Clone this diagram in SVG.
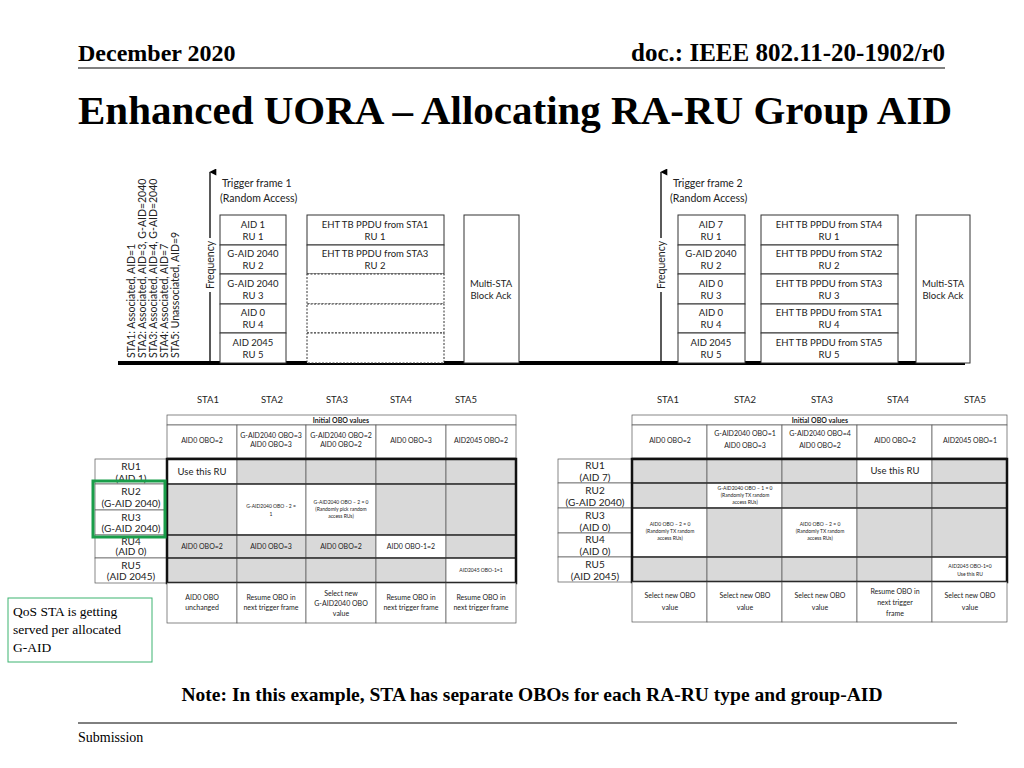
<svg xmlns="http://www.w3.org/2000/svg" width="1024" height="768" viewBox="0 0 1024 768">
<style>
text{font-family:"Lato","Liberation Sans",sans-serif;fill:#222}
.s{font-size:9.5px;text-anchor:middle}
.t{font-size:7px;text-anchor:middle}
.u{font-size:5px;text-anchor:middle}
.r{font-size:10px;text-anchor:middle}
.b{fill:#fff;stroke:#333;stroke-width:1}
.d{fill:#fff;stroke:#333;stroke-width:1;stroke-dasharray:2,1.5}
.g{fill:#d9d9d9;stroke:#555;stroke-width:0.7}
.w{fill:#fff;stroke:#555;stroke-width:0.7}
text.hd{font-family:"Liberation Serif",serif;font-weight:bold;fill:#000}
text.sf{font-family:"Liberation Serif",serif;fill:#000}
</style>
<defs><marker id="ar" viewBox="0 0 10 10" refX="5" refY="1" markerWidth="7" markerHeight="9" orient="auto-start-reverse" markerUnits="userSpaceOnUse"><path d="M0,10 L5,0 L10,10 Z" fill="#000"/></marker></defs>
<rect width="1024" height="768" fill="#fff"/>
<g id="header">
<text x="78" y="61" class="hd" font-size="24">December 2020</text>
<text x="945" y="61" class="hd" font-size="25" text-anchor="end">doc.: IEEE 802.11-20-1902/r0</text>
<line x1="78" y1="68" x2="945" y2="68" stroke="#000"/>
<text x="78" y="124" class="hd" font-size="41">Enhanced UORA – Allocating RA-RU Group AID</text>
<line x1="78" y1="723" x2="957" y2="723" stroke="#000"/>
<text x="78" y="742" class="sf" font-size="14">Submission</text>
</g>
<g id="sta-list">
<text transform="translate(135,358) rotate(-90)" font-size="10.5">STA1: Associated, AID=1</text>
<text transform="translate(146,358) rotate(-90)" font-size="10.5">STA2: Associated, AID=3, G-AID=2040</text>
<text transform="translate(157,358) rotate(-90)" font-size="10.5">STA3: Associated, AID=4, G-AID=2040</text>
<text transform="translate(168,358) rotate(-90)" font-size="10.5">STA4: Associated, AID=7</text>
<text transform="translate(179,358) rotate(-90)" font-size="10.5">STA5: Unassociated, AID=9</text>
</g>
<g id="connectors">
<line x1="118" y1="363" x2="965" y2="363" stroke="#000" stroke-width="4"/>
<line x1="210" y1="362" x2="210" y2="172" stroke="#000" stroke-width="1.3" marker-end="url(#ar)"/>
<line x1="661" y1="362" x2="661" y2="172" stroke="#000" stroke-width="1.3" marker-end="url(#ar)"/>
</g>
<g id="tf1">
<rect x="203" y="238" width="14" height="54" fill="#fff"/>
<text transform="translate(214,265) rotate(-90)" font-size="10.5" text-anchor="middle">Frequency</text>
<text x="222" y="187" font-size="10.5">Trigger frame 1</text>
<text x="220" y="202" font-size="10.5">(Random Access)</text>
<rect class="b" x="220" y="215" width="66" height="30"/><text class="s" x="253" y="228">AID 1</text><text class="s" x="253" y="240">RU 1</text>
<rect class="b" x="220" y="245" width="66" height="29"/><text class="s" x="253" y="257">G-AID 2040</text><text class="s" x="253" y="269">RU 2</text>
<rect class="b" x="220" y="274" width="66" height="30"/><text class="s" x="253" y="287">G-AID 2040</text><text class="s" x="253" y="299">RU 3</text>
<rect class="b" x="220" y="304" width="66" height="29"/><text class="s" x="253" y="316">AID 0</text><text class="s" x="253" y="328">RU 4</text>
<rect class="b" x="220" y="333" width="66" height="30"/><text class="s" x="253" y="346">AID 2045</text><text class="s" x="253" y="358">RU 5</text>
<rect class="b" x="307" y="215" width="137" height="30"/><text class="s" x="375" y="228">EHT TB PPDU from STA1</text><text class="s" x="375" y="240">RU 1</text>
<rect class="b" x="307" y="245" width="137" height="29"/><text class="s" x="375" y="257">EHT TB PPDU from STA3</text><text class="s" x="375" y="269">RU 2</text>
<rect class="d" x="307" y="274" width="137" height="30"/>
<rect class="d" x="307" y="304" width="137" height="29"/>
<rect class="d" x="307" y="333" width="137" height="30"/>
<rect class="b" x="464" y="215" width="55" height="148"/><text class="s" x="491" y="287">Multi-STA</text><text class="s" x="491" y="299">Block Ack</text>
</g>
<g id="tf2">
<rect x="654" y="238" width="14" height="54" fill="#fff"/>
<text transform="translate(665,265) rotate(-90)" font-size="10.5" text-anchor="middle">Frequency</text>
<text x="673" y="187" font-size="10.5">Trigger frame 2</text>
<text x="670" y="202" font-size="10.5">(Random Access)</text>
<rect class="b" x="678" y="215" width="67" height="30"/><text class="s" x="711" y="228">AID 7</text><text class="s" x="711" y="240">RU 1</text>
<rect class="b" x="678" y="245" width="67" height="29"/><text class="s" x="711" y="257">G-AID 2040</text><text class="s" x="711" y="269">RU 2</text>
<rect class="b" x="678" y="274" width="67" height="30"/><text class="s" x="711" y="287">AID 0</text><text class="s" x="711" y="299">RU 3</text>
<rect class="b" x="678" y="304" width="67" height="29"/><text class="s" x="711" y="316">AID 0</text><text class="s" x="711" y="328">RU 4</text>
<rect class="b" x="678" y="333" width="67" height="30"/><text class="s" x="711" y="346">AID 2045</text><text class="s" x="711" y="358">RU 5</text>
<rect class="b" x="761" y="215" width="137" height="30"/><text class="s" x="829" y="228">EHT TB PPDU from STA4</text><text class="s" x="829" y="240">RU 1</text>
<rect class="b" x="761" y="245" width="137" height="29"/><text class="s" x="829" y="257">EHT TB PPDU from STA2</text><text class="s" x="829" y="269">RU 2</text>
<rect class="b" x="761" y="274" width="137" height="30"/><text class="s" x="829" y="287">EHT TB PPDU from STA3</text><text class="s" x="829" y="299">RU 3</text>
<rect class="b" x="761" y="304" width="137" height="29"/><text class="s" x="829" y="316">EHT TB PPDU from STA1</text><text class="s" x="829" y="328">RU 4</text>
<rect class="b" x="761" y="333" width="137" height="30"/><text class="s" x="829" y="346">EHT TB PPDU from STA5</text><text class="s" x="829" y="358">RU 5</text>
<rect class="b" x="916" y="215" width="54" height="148"/><text class="s" x="943" y="287">Multi-STA</text><text class="s" x="943" y="299">Block Ack</text>
</g>
<g id="sta-labels">
<text class="s" x="208" y="403">STA1</text><text class="s" x="272" y="403">STA2</text><text class="s" x="337" y="403">STA3</text><text class="s" x="401" y="403">STA4</text><text class="s" x="466" y="403">STA5</text>
<text class="s" x="668" y="403">STA1</text><text class="s" x="745" y="403">STA2</text><text class="s" x="822" y="403">STA3</text><text class="s" x="898" y="403">STA4</text><text class="s" x="975" y="403">STA5</text>
</g>
<g id="table1">
<rect class="w" x="167" y="415" width="349" height="10"/><text class="t" x="341" y="422.5" font-weight="bold">Initial OBO values</text>
<rect class="w" x="167" y="425" width="70" height="33"/><text class="t" x="202" y="443">AID0 OBO=2</text>
<rect class="w" x="237" y="425" width="69" height="33"/><text class="t" x="271" y="438">G-AID2040 OBO=3</text><text class="t" x="271" y="447">AID0 OBO=3</text>
<rect class="w" x="306" y="425" width="70" height="33"/><text class="t" x="341" y="438">G-AID2040 OBO=2</text><text class="t" x="341" y="447">AID0 OBO=2</text>
<rect class="w" x="376" y="425" width="70" height="33"/><text class="t" x="411" y="443">AID0 OBO=3</text>
<rect class="w" x="446" y="425" width="70" height="33"/><text class="t" x="481" y="443">AID2045 OBO=2</text>
<rect class="w" x="95" y="459" width="72" height="25"/><text class="r" x="131" y="470">RU1</text><text class="r" x="131" y="482">(AID 1)</text>
<rect class="w" x="95" y="484" width="72" height="26"/><text class="r" x="131" y="495">RU2</text><text class="r" x="131" y="507">(G-AID 2040)</text>
<rect class="w" x="95" y="510" width="72" height="25"/><text class="r" x="131" y="521">RU3</text><text class="r" x="131" y="532">(G-AID 2040)</text>
<rect class="w" x="95" y="535" width="72" height="23"/><text class="r" x="131" y="545">RU4</text><text class="r" x="131" y="555">(AID 0)</text>
<rect class="w" x="95" y="558" width="72" height="25"/><text class="r" x="131" y="569">RU5</text><text class="r" x="131" y="580">(AID 2045)</text>
<rect class="w" x="167" y="459" width="70" height="25"/><text class="s" x="202" y="475">Use this RU</text>
<rect class="g" x="237" y="459" width="69" height="25"/><rect class="g" x="306" y="459" width="70" height="25"/><rect class="g" x="376" y="459" width="70" height="25"/><rect class="g" x="446" y="459" width="70" height="25"/>
<rect class="g" x="167" y="484" width="70" height="51"/>
<rect class="w" x="237" y="484" width="69" height="51"/><text class="u" x="271" y="508" font-size="6">G-AID2040 OBO - 2 =</text><text class="u" x="271" y="516" font-size="6">1</text>
<rect class="w" x="306" y="484" width="70" height="51"/><text class="u" x="341" y="504">G-AID2040 OBO – 2 = 0</text><text class="u" x="341" y="511">(Randomly pick random</text><text class="u" x="341" y="518">access RUs)</text>
<rect class="g" x="376" y="484" width="70" height="51"/><rect class="g" x="446" y="484" width="70" height="51"/>
<rect class="g" x="167" y="535" width="70" height="23"/><text class="t" x="202" y="549">AID0 OBO=2</text>
<rect class="g" x="237" y="535" width="69" height="23"/><text class="t" x="271" y="549">AID0 OBO=3</text>
<rect class="g" x="306" y="535" width="70" height="23"/><text class="t" x="341" y="549">AID0 OBO=2</text>
<rect class="w" x="376" y="535" width="70" height="23"/><text class="t" x="411" y="549">AID0 OBO-1=2</text>
<rect class="g" x="446" y="535" width="70" height="23"/>
<rect class="g" x="167" y="558" width="70" height="25"/><rect class="g" x="237" y="558" width="69" height="25"/><rect class="g" x="306" y="558" width="70" height="25"/><rect class="g" x="376" y="558" width="70" height="25"/>
<rect class="w" x="446" y="558" width="70" height="25"/><text class="u" x="481" y="572" font-size="6">AID2045 OBO-1=1</text>
<line x1="167" y1="484" x2="516" y2="484" stroke="#333" stroke-width="1.5"/>
<line x1="167" y1="535" x2="516" y2="535" stroke="#333" stroke-width="1.5"/>
<line x1="167" y1="558" x2="516" y2="558" stroke="#333" stroke-width="1.5"/>
<rect x="167" y="459" width="349" height="124" fill="none" stroke="#111" stroke-width="2.5"/>
<rect class="w" x="167" y="583" width="70" height="40"/><text class="t" x="202" y="600">AID0 OBO</text><text class="t" x="202" y="610">unchanged</text>
<rect class="w" x="237" y="583" width="69" height="40"/><text class="t" x="271" y="600">Resume OBO in</text><text class="t" x="271" y="610">next trigger frame</text>
<rect class="w" x="306" y="583" width="70" height="40"/><text class="t" x="341" y="596">Select new</text><text class="t" x="341" y="606">G-AID2040 OBO</text><text class="t" x="341" y="616">value</text>
<rect class="w" x="376" y="583" width="70" height="40"/><text class="t" x="411" y="600">Resume OBO in</text><text class="t" x="411" y="610">next trigger frame</text>
<rect class="w" x="446" y="583" width="70" height="40"/><text class="t" x="481" y="600">Resume OBO in</text><text class="t" x="481" y="610">next trigger frame</text>
</g>
<g id="green-highlight"><rect x="93" y="481" width="72" height="56" fill="none" stroke="#1a9e4a" stroke-width="3"/></g>
<g id="qos-note">
<rect x="8" y="598" width="144" height="64" fill="#fff" stroke="#3cb371" stroke-width="1"/>
<text x="13" y="616" class="sf" font-size="13.5">QoS STA is getting</text>
<text x="13" y="634" class="sf" font-size="13.5">served per allocated</text>
<text x="13" y="652" class="sf" font-size="13.5">G-AID</text>
</g>
<g id="table2">
<rect class="w" x="632" y="415" width="375" height="10"/><text class="t" x="820" y="422.5" font-weight="bold">Initial OBO values</text>
<rect class="w" x="632" y="425" width="75" height="33"/><text class="t" x="670" y="443">AID0 OBO=2</text>
<rect class="w" x="707" y="425" width="75" height="33"/><text class="t" x="745" y="436">G-AID2040 OBO=1</text><text class="t" x="745" y="448">AID0 OBO=3</text>
<rect class="w" x="782" y="425" width="75" height="33"/><text class="t" x="820" y="436">G-AID2040 OBO=4</text><text class="t" x="820" y="448">AID0 OBO=2</text>
<rect class="w" x="857" y="425" width="75" height="33"/><text class="t" x="895" y="443">AID0 OBO=2</text>
<rect class="w" x="932" y="425" width="75" height="33"/><text class="t" x="970" y="443">AID2045 OBO=1</text>
<rect class="w" x="558" y="459" width="74" height="24"/><text class="r" x="595" y="469">RU1</text><text class="r" x="595" y="481">(AID 7)</text>
<rect class="w" x="558" y="483" width="74" height="25"/><text class="r" x="595" y="494">RU2</text><text class="r" x="595" y="506">(G-AID 2040)</text>
<rect class="w" x="558" y="508" width="74" height="25"/><text class="r" x="595" y="519">RU3</text><text class="r" x="595" y="531">(AID 0)</text>
<rect class="w" x="558" y="533" width="74" height="24"/><text class="r" x="595" y="543">RU4</text><text class="r" x="595" y="555">(AID 0)</text>
<rect class="w" x="558" y="557" width="74" height="25"/><text class="r" x="595" y="568">RU5</text><text class="r" x="595" y="580">(AID 2045)</text>
<rect class="g" x="632" y="459" width="75" height="24"/><rect class="g" x="707" y="459" width="75" height="24"/><rect class="g" x="782" y="459" width="75" height="24"/>
<rect class="w" x="857" y="459" width="75" height="24"/><text class="s" x="895" y="474">Use this RU</text>
<rect class="g" x="932" y="459" width="75" height="24"/>
<rect class="g" x="632" y="483" width="75" height="25"/>
<rect class="w" x="707" y="483" width="75" height="25"/><text class="u" x="745" y="490">G-AID2040 OBO – 1 = 0</text><text class="u" x="745" y="497">(Randomly TX random</text><text class="u" x="745" y="504">access RUs)</text>
<rect class="g" x="782" y="483" width="75" height="25"/><rect class="g" x="857" y="483" width="75" height="25"/><rect class="g" x="932" y="483" width="75" height="25"/>
<rect class="w" x="632" y="508" width="75" height="49"/><text class="u" x="670" y="526" font-size="5.5">AID0 OBO – 2 = 0</text><text class="u" x="670" y="533">(Randomly TX random</text><text class="u" x="670" y="540">access RUs)</text>
<rect class="g" x="707" y="508" width="75" height="49"/>
<rect class="w" x="782" y="508" width="75" height="49"/><text class="u" x="820" y="526" font-size="5.5">AID0 OBO – 2 = 0</text><text class="u" x="820" y="533">(Randomly TX random</text><text class="u" x="820" y="540">access RUs)</text>
<rect class="g" x="857" y="508" width="75" height="49"/><rect class="g" x="932" y="508" width="75" height="49"/>
<rect class="g" x="632" y="557" width="75" height="25"/><rect class="g" x="707" y="557" width="75" height="25"/><rect class="g" x="782" y="557" width="75" height="25"/><rect class="g" x="857" y="557" width="75" height="25"/>
<rect class="w" x="932" y="557" width="75" height="25"/><text class="u" x="970" y="568" font-size="6">AID2045 OBO-1=0</text><text class="u" x="970" y="576" font-size="6">Use this RU</text>
<line x1="632" y1="483" x2="1007" y2="483" stroke="#333" stroke-width="1.5"/>
<line x1="632" y1="508" x2="1007" y2="508" stroke="#333" stroke-width="1.5"/>
<line x1="632" y1="557" x2="1007" y2="557" stroke="#333" stroke-width="1.5"/>
<rect x="632" y="459" width="375" height="123" fill="none" stroke="#111" stroke-width="2.5"/>
<rect class="w" x="632" y="582" width="75" height="40"/><text class="t" x="670" y="598" font-size="8">Select new OBO</text><text class="t" x="670" y="610" font-size="8">value</text>
<rect class="w" x="707" y="582" width="75" height="40"/><text class="t" x="745" y="598" font-size="8">Select new OBO</text><text class="t" x="745" y="610" font-size="8">value</text>
<rect class="w" x="782" y="582" width="75" height="40"/><text class="t" x="820" y="598" font-size="8">Select new OBO</text><text class="t" x="820" y="610" font-size="8">value</text>
<rect class="w" x="857" y="582" width="75" height="40"/><text class="t" x="895" y="594" font-size="8">Resume OBO in</text><text class="t" x="895" y="605" font-size="8">next trigger</text><text class="t" x="895" y="616" font-size="8">frame</text>
<rect class="w" x="932" y="582" width="75" height="40"/><text class="t" x="970" y="598" font-size="8">Select new OBO</text><text class="t" x="970" y="610" font-size="8">value</text>
</g>
<g id="note"><text x="532" y="701" class="hd" font-size="19.5" text-anchor="middle">Note: In this example, STA has separate OBOs for each RA-RU type and group-AID</text></g>
</svg>
